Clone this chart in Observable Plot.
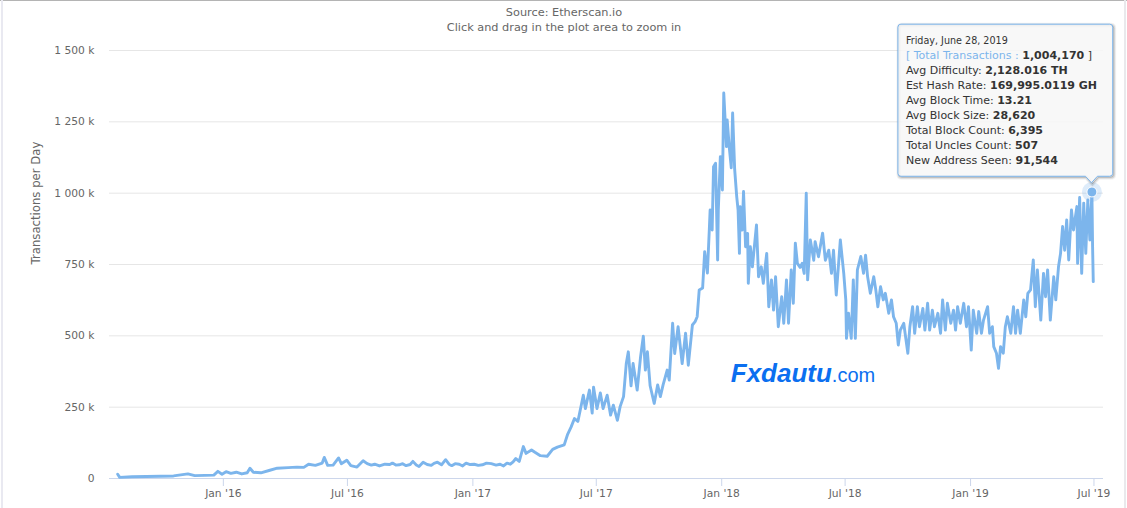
<!DOCTYPE html>
<html>
<head>
<meta charset="utf-8">
<script src="https://cdn.jsdelivr.net/npm/d3@7"></script>
<script src="https://cdn.jsdelivr.net/npm/@observablehq/plot@0.6"></script>
<style>
  html, body { margin: 0; padding: 0; background: #fff; }
  #wrap { position: relative; width: 1127px; height: 508px; overflow: hidden; font-family: "DejaVu Sans", sans-serif; }
  #head { position: absolute; top: 5px; left: 0; width: 1128px; text-align: center; color: #666; font-size: 11.3px; line-height: 15px; z-index: 2; }
  .edge { position: absolute; z-index: 3; }
</style>
</head>
<body>
<div id="wrap">
  <div id="head"><div id="title"></div><div id="subtitle"></div></div>
  <div class="edge" style="left:0;top:0;width:1127px;height:1px;background:#b4b4b4"></div>
  <div class="edge" style="left:1px;top:0;width:2px;height:508px;background:#e9e9f1"></div>
  <div class="edge" style="left:1124px;top:0;width:2px;height:508px;background:#e9e9ec"></div>
</div>
<script>
// ---- texts ----
const titleText = "Source: Etherscan.io";
const subtitleText = "Click and drag in the plot area to zoom in";
const yAxisTitle = "Transactions per Day";

// ---- axis ticks ----
const yTicks = [0, 250, 500, 750, 1000, 1250, 1500]; // thousands
const xTicks = ["2016-01-01","2016-07-01","2017-01-01","2017-07-01","2018-01-01","2018-07-01","2019-01-01","2019-07-01"];

// ---- series: transactions per day (thousands) ----
const dates = [
"2015-07-30","2015-08-02","2015-08-20","2015-09-10","2015-10-01","2015-10-20","2015-11-10","2015-11-20","2015-12-05","2015-12-18",
"2015-12-24","2015-12-30","2016-01-05","2016-01-12","2016-01-20","2016-01-28","2016-02-05","2016-02-09","2016-02-14","2016-02-25",
"2016-03-08","2016-03-20","2016-04-05","2016-04-18","2016-04-28","2016-05-05","2016-05-15","2016-05-25","2016-05-28","2016-06-02",
"2016-06-10","2016-06-18","2016-06-22","2016-06-30","2016-07-06","2016-07-15","2016-07-24","2016-07-30","2016-08-05","2016-08-10",
"2016-08-17","2016-08-25","2016-09-01","2016-09-05","2016-09-10","2016-09-15","2016-09-20","2016-09-25","2016-10-01","2016-10-05",
"2016-10-10","2016-10-14","2016-10-20","2016-10-26","2016-11-01","2016-11-05","2016-11-10","2016-11-16","2016-11-22","2016-11-27",
"2016-12-01","2016-12-06","2016-12-12","2016-12-17","2016-12-22","2016-12-28","2017-01-03","2017-01-09","2017-01-15","2017-01-21",
"2017-01-28","2017-02-04","2017-02-10","2017-02-15","2017-02-20","2017-02-25","2017-03-01","2017-03-05","2017-03-10","2017-03-16",
"2017-03-20","2017-03-28","2017-04-02","2017-04-10","2017-04-20","2017-04-28","2017-05-05","2017-05-15","2017-05-20","2017-05-25",
"2017-05-30","2017-06-04","2017-06-12","2017-06-15","2017-06-21","2017-06-25","2017-06-27","2017-07-02","2017-07-07","2017-07-11",
"2017-07-17","2017-07-22","2017-07-26","2017-08-01","2017-08-05","2017-08-10","2017-08-14","2017-08-17","2017-08-21","2017-08-24",
"2017-08-30","2017-09-04","2017-09-08","2017-09-11","2017-09-14","2017-09-18","2017-09-24","2017-09-29","2017-10-03","2017-10-07",
"2017-10-13","2017-10-16","2017-10-21","2017-10-24","2017-10-29","2017-11-04","2017-11-09","2017-11-13","2017-11-19","2017-11-23",
"2017-11-26","2017-11-29","2017-12-04","2017-12-07","2017-12-11","2017-12-14","2017-12-15","2017-12-18","2017-12-20","2017-12-23",
"2017-12-26","2017-12-27","2017-12-30","2018-01-02","2018-01-04","2018-01-08","2018-01-09","2018-01-12","2018-01-15","2018-01-17",
"2018-01-20","2018-01-23","2018-01-25","2018-01-27","2018-01-28","2018-01-31","2018-02-02","2018-02-05","2018-02-08","2018-02-09",
"2018-02-12","2018-02-15","2018-02-21","2018-02-24","2018-02-28","2018-03-03","2018-03-08","2018-03-11","2018-03-15","2018-03-18",
"2018-03-21","2018-03-25","2018-03-30","2018-04-02","2018-04-06","2018-04-09","2018-04-13","2018-04-16","2018-04-19","2018-04-22",
"2018-04-26","2018-04-29","2018-05-02","2018-05-05","2018-05-07","2018-05-11","2018-05-16","2018-05-18","2018-05-23","2018-05-29",
"2018-06-02","2018-06-07","2018-06-11","2018-06-14","2018-06-18","2018-06-24","2018-06-29","2018-07-02","2018-07-03","2018-07-06",
"2018-07-10","2018-07-13","2018-07-16","2018-07-19","2018-07-24","2018-07-28","2018-07-31","2018-08-03","2018-08-07","2018-08-12",
"2018-08-15","2018-08-18","2018-08-22","2018-08-26","2018-08-29","2018-09-03","2018-09-07","2018-09-10","2018-09-14","2018-09-17",
"2018-09-20","2018-09-25","2018-09-28","2018-10-01","2018-10-04","2018-10-08","2018-10-11","2018-10-15","2018-10-18","2018-10-23",
"2018-10-26","2018-10-30","2018-11-02","2018-11-06","2018-11-09","2018-11-14","2018-11-18","2018-11-21","2018-11-25","2018-11-28",
"2018-12-03","2018-12-07","2018-12-10","2018-12-13","2018-12-17","2018-12-22","2018-12-26","2018-12-29","2019-01-02","2019-01-05",
"2019-01-10","2019-01-13","2019-01-17","2019-01-20","2019-01-26","2019-01-29","2019-02-02","2019-02-04","2019-02-08","2019-02-11",
"2019-02-14","2019-02-18","2019-02-21","2019-02-24","2019-03-01","2019-03-05","2019-03-08","2019-03-11","2019-03-15","2019-03-20",
"2019-03-23","2019-03-26","2019-03-30","2019-04-03","2019-04-06","2019-04-09","2019-04-14","2019-04-18","2019-04-21","2019-04-24",
"2019-04-28","2019-05-03","2019-05-06","2019-05-10","2019-05-13","2019-05-16","2019-05-19","2019-05-22","2019-05-25","2019-05-29",
"2019-06-01","2019-06-06","2019-06-07","2019-06-10","2019-06-13","2019-06-16","2019-06-19","2019-06-22","2019-06-25","2019-06-28",
"2019-06-29","2019-06-30"
];
const txK = [
15,4,6,7,8,9,16,10,11,12,
25,15,24,18,22,16,20,36,22,20,
28,36,38,40,39,50,46,54,74,46,
47,72,52,64,45,40,62,52,47,50,
44,50,49,54,47,48,52,45,49,60,
47,42,57,49,46,53,57,48,66,50,
45,52,50,44,54,49,50,46,48,54,
52,47,50,44,54,50,58,70,60,112,
88,100,92,80,78,102,110,118,155,180,
210,200,292,245,310,229,320,245,300,245,
292,222,257,204,252,287,403,444,325,403,
310,427,499,380,444,325,263,328,287,328,
380,345,544,438,532,403,509,397,538,550,
567,661,668,795,720,883,941,871,1093,1105,
766,941,1128,1011,1351,1163,1257,1163,1089,1281,
1083,988,941,789,953,871,1006,812,859,684,
812,742,889,707,742,684,789,602,696,590,
707,532,637,544,696,544,731,614,825,754,
740,754,719,1000,696,836,765,830,777,860,
765,800,719,800,643,836,719,626,491,579,
491,696,491,731,778,719,783,707,649,707,
661,602,672,626,649,579,626,567,544,468,
520,544,491,439,532,602,509,602,532,596,
520,614,520,590,532,579,509,626,520,614,
544,590,520,602,544,614,532,602,450,590,
509,585,509,555,602,509,532,462,439,386,
462,439,532,567,509,602,509,590,509,626,
567,649,661,766,602,731,555,719,637,731,
555,707,626,742,789,883,800,906,766,941,
871,953,754,985,719,965,789,976,836,1004.17,
812,690
];

// ---- hovered point tooltip ----
const tipDate = "2019-06-28";
const tipHeader = "Friday, June 28, 2019";
const tipSeriesName = "Total Transactions";
const tipTotal = 1004170;
const tipLabels = ["Avg Difficulty","Est Hash Rate","Avg Block Time","Avg Block Size","Total Block Count","Total Uncles Count","New Address Seen"];
const tipValues = ["2,128.016 TH","169,995.0119 GH","13.21","28,620","6,395","507","91,544"];

// ---- watermark ----
const wmMain = "Fxdautu";
const wmTail = ".com";

// ---- build ----
const data = dates.map((d, i) => ({date: new Date(d), v: txK[i]}));
const tip = {date: new Date(tipDate), v: tipTotal / 1000};
const fmtY = v => v === 0 ? "0" : d3.format(",")(v).replace(/,/g, " ") + " k";
const fmtX = d3.utcFormat("%b '%y");

document.getElementById("title").textContent = titleText;
document.getElementById("subtitle").textContent = subtitleText;

const chart = Plot.plot({
  width: 1127,
  height: 508,
  marginLeft: 109,
  marginRight: 24,
  marginTop: 50,
  marginBottom: 30,
  style: {fontFamily: "DejaVu Sans", background: "transparent", overflow: "visible"},
  x: {type: "utc", domain: [new Date("2015-07-18"), new Date("2019-07-15")]},
  y: {domain: [0, 1500]},
  marks: [
    Plot.gridY(yTicks, {stroke: "#e6e6e6", strokeOpacity: 1}),
    Plot.ruleY([0], {stroke: "#ccd6eb"}),
    Plot.axisY(yTicks, {tickSize: 0, tickPadding: 15, tickFormat: fmtY, fill: "#666", fontSize: 10.7, label: null}),
    Plot.axisX(xTicks.map(d => new Date(d)), {tickSize: 8, tickPadding: 3, tickFormat: fmtX, stroke: "#ccd6eb", fill: "#666", fontSize: 10.7, label: null}),
    Plot.text([yAxisTitle], {text: d => d, frameAnchor: "left", rotate: -90, dx: -73, fill: "#666", fontSize: 11.7}),
    Plot.lineY(data, {x: "date", y: "v", stroke: "#7cb5ec", strokeWidth: 2.9, strokeLinejoin: "round"}),
    Plot.dot([tip], {x: "date", y: "v", r: 10, fill: "#7cb5ec", fillOpacity: 0.25}),
    Plot.dot([tip], {x: "date", y: "v", r: 5, fill: "#7cb5ec", stroke: "#fff", strokeWidth: 1})
  ]
});
document.getElementById("wrap").prepend(chart);
chart.style.position = "absolute";
chart.style.left = "0px";
chart.style.top = "0px";

const svg = d3.select(chart);
const sx = chart.scale("x"), sy = chart.scale("y");

// watermark
const wm = svg.append("text")
  .attr("x", sx.apply(new Date("2018-01-15")))
  .attr("y", sy.apply(335))
  .attr("text-anchor", "start")
  .attr("font-family", "Liberation Sans, Arial, sans-serif")
  .attr("fill", "#0b6ff0");
wm.append("tspan").attr("font-size", 26).attr("font-weight", "bold").attr("font-style", "italic").text(wmMain);
wm.append("tspan").attr("font-size", 20).text(wmTail);

// tooltip anchored to the hovered point
const px = sx.apply(tip.date), py = sy.apply(tip.v);
const L = px - 193.5, R = px + 21.3, T = py - 167.3, B = py - 15.2, r = 3;
const pathD = `M${L + r},${T} H${R - r} Q${R},${T} ${R},${T + r} V${B - r} Q${R},${B} ${R - r},${B} H${px + 6} L${px},${B + 6.5} L${px - 6},${B} H${L + r} Q${L},${B} ${L},${B - r} V${T + r} Q${L},${T} ${L + r},${T} Z`;
const tg = svg.append("g").attr("font-family", "DejaVu Sans").attr("text-anchor", "start");
[[5, 0.05], [3, 0.1], [1, 0.15]].forEach(([w, o]) => {
  tg.append("path").attr("d", pathD).attr("transform", "translate(1,1)")
    .attr("fill", "none").attr("stroke", "#000").attr("stroke-opacity", o).attr("stroke-width", w);
});
tg.append("path").attr("d", pathD).attr("fill", "rgba(247,247,247,0.85)").attr("stroke", "#7cb5ec").attr("stroke-width", 1);
const tx0 = L + 8;
tg.append("text").attr("x", tx0).attr("y", T + 19.7).attr("font-size", 9.6).attr("fill", "#333").text(tipHeader);
const l2 = tg.append("text").attr("x", tx0).attr("y", T + 34.4).attr("font-size", 11).attr("fill", "#333");
l2.append("tspan").attr("fill", "#7cb5ec").text("[ " + tipSeriesName + " : ");
l2.append("tspan").attr("font-weight", "bold").text(d3.format(",")(tipTotal));
l2.append("tspan").text(" ]");
tipLabels.forEach((lab, i) => {
  const t = tg.append("text").attr("x", tx0).attr("y", T + 34.4 + 15 * (i + 1)).attr("font-size", 11).attr("fill", "#333");
  t.append("tspan").text(lab + ": ");
  t.append("tspan").attr("font-weight", "bold").text(tipValues[i]);
});
</script>
</body>
</html>
